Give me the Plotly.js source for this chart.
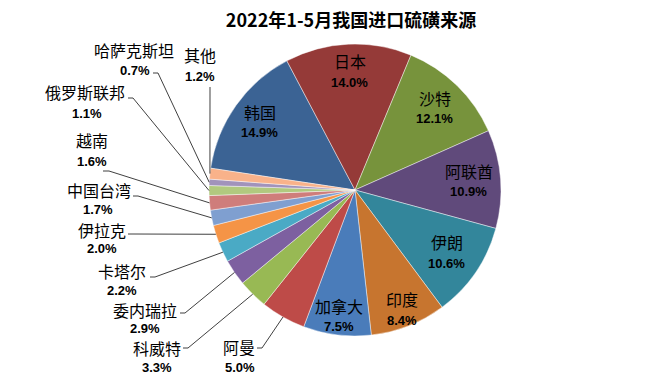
<!DOCTYPE html>
<html><head><meta charset="utf-8">
<script src="https://cdn.plot.ly/plotly-3.0.1.min.js"></script>
<style>html,body{margin:0;padding:0;background:#fff}#chart{width:659px;height:378px}</style>
</head><body><div id="chart"></div>
<script>
// ---- data ----
const titleText = '2022年1-5月我国进口硫磺来源';
const labels = ['韩国','日本','沙特','阿联酋','伊朗','印度','加拿大','阿曼','科威特','委内瑞拉','卡塔尔','伊拉克','中国台湾','越南','俄罗斯联邦','哈萨克斯坦','其他'];
const shares = [14.9,14.0,12.1,10.9,10.6,8.4,7.5,5.0,3.3,2.9,2.2,2.0,1.7,1.6,1.1,0.7,1.2];
const colors = ['#3b6394','#953a38','#77933c','#604a7b','#33869b','#c7752f','#4a7cba','#be4b48','#98b954','#7d60a0','#4aaac5','#f59446','#7f9fd0','#cf7d7b','#b1c97f','#a193bb','#f9b28a'];

// ---- layout / style ----
const W = 659, H = 378;
const CX = 355, CY = 190, R = 146;
const rotationDeg = -81.4;
const insideRadius = [0.80,0.81,0.78,0.78,0.76,0.88,0.87];
// outside label placement (px): [nameX,nameY,pctX,pctY,lineX,lineY,stub]
const outsidePlace = {
  7:[239,347,240,367,257,348,5],
  8:[157,348,157,367,183,348,5],
  9:[145,309.5,145,328,180,313,5],
  10:[122,271,122,290,150,277,5],
  11:[102,230,102,248,128,234,5],
  12:[99,190,98,209,133,196,5],
  13:[92,140,92,161,103,171,6],
  14:[85,92,87,113,128,98,5],
  15:[134,50,135,71,153,73,5],
  16:[200,55,200,76,210,87,0]
};
const nameFont = {family:'"Noto Sans CJK SC", "Noto Sans", sans-serif', size:16, color:'#000'};
const pctFont = {family:'"Liberation Sans", Arial, sans-serif', size:13, color:'#000', weight:700};

const px = x => x / W;
const py = y => 1 - y / H;

const total = shares.reduce((a,b)=>a+b,0);
let cum = 0;
const mids = shares.map(v => { const m = rotationDeg + (cum + v/2) / total * 360; cum += v; return m; });

const annotations = [];
const shapes = [];
function addText(t, x, y, font){
  annotations.push({text:t, x:px(x), y:py(y), xref:'paper', yref:'paper', xanchor:'center', yanchor:'middle',
                    showarrow:false, borderpad:0, font:font});
}
shares.forEach((v,i) => {
  const a = mids[i] * Math.PI / 180;
  const pct = v.toFixed(1) + '%';
  if (i < insideRadius.length) {
    const rr = R * insideRadius[i];
    const x = CX + rr * Math.sin(a), y = CY - rr * Math.cos(a);
    addText(labels[i], x, y - 10.5, nameFont);
    addText(pct, x, y + 10.5, pctFont);
  } else {
    const p = outsidePlace[i];
    addText(labels[i], p[0], p[1], nameFont);
    addText(pct, p[2], p[3], pctFont);
    const tx = CX + R * Math.sin(a), ty = CY - R * Math.cos(a);
    const path = 'M' + px(p[4]) + ',' + py(p[5]) + ' L' + px(p[4]+p[6]) + ',' + py(p[5]) + ' L' + px(tx) + ',' + py(ty);
    shapes.push({type:'path', xref:'paper', yref:'paper', path:path, line:{color:'#2a2a2a', width:0.9}});
  }
});

const trace = {
  type:'pie', labels:labels, values:shares, sort:false, direction:'clockwise',
  rotation:rotationDeg, textinfo:'none', hoverinfo:'none', showlegend:false,
  marker:{colors:colors, line:{color:'rgba(255,255,255,0.55)', width:0.8}},
  domain:{x:[(CX-R)/W,(CX+R)/W], y:[1-(CY+R)/H, 1-(CY-R)/H]}
};
const layout = {
  width:W, height:H, margin:{l:0,r:0,t:0,b:0},
  paper_bgcolor:'#fff', plot_bgcolor:'#fff',
  title:{text:titleText, x:351/W, y:1-21/H, xref:'paper', yref:'paper', xanchor:'center', yanchor:'middle',
         font:{family:'"Noto Sans CJK SC", sans-serif', size:18, color:'#000', weight:700}},
  annotations:annotations, shapes:shapes
};
Plotly.newPlot('chart', [trace], layout, {displayModeBar:false, staticPlot:true});
</script>
</body></html>
